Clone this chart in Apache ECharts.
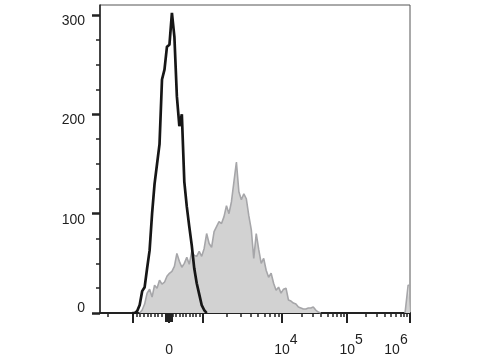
<!DOCTYPE html>
<html><head><meta charset="utf-8">
<script src="https://cdn.jsdelivr.net/npm/echarts@6/dist/echarts.min.js"></script>
<style>html,body{margin:0;padding:0;background:#fff}#c{width:480px;height:360px}</style>
</head><body><div id="c"></div>
<script>
// Display-channel scale (0..1000), biexponential transform of fluorescence intensity
const blackX = [104,112,120,128,136,144,152,160,168,176,184,192,200,208,216,224,232,240,248,256,264,272,280,288,296,304,312,320,328,336,344];
const blackCounts = [0,0,2,8,22,26,45,63,100,130,150,170,235,245,268,270,302,278,218,188,200,132,107,87,68,45,30,19,8,3,0];

const grayX = [128,136,144,152,160,168,176,184,192,200,208,216,224,232,240,248,256,264,272,280,288,296,304,312,320,328,336,344,352,360,368,376,384,392,400,408,416,424,432,440,448,456,464,472,480,488,496,504,512,520,528,536,544,552,560,568,576,584,592,600,608,616,624,632,640,648,656,664,672,680,688,696,704,712];
const grayCounts = [0,3,9,20,24,16,28,25,33,29,31,37,40,42,47,60,52,46,50,56,49,62,58,57,62,57,65,80,70,66,82,87,92,90,97,108,100,112,132,152,122,114,120,115,98,84,55,80,64,50,55,43,36,40,30,23,26,20,24,25,13,12,10,9,6,5,4,4,5,5,6,3,1,0];

const edgeX = [984,994,1000];
const edgeCounts = [0,28,28];

const yTickValues = [0,100,200,300];
const yMinorValues = [25,50,75,125,150,175,225,250,275];

// x-axis decade positions on display scale
const xLabelValues = [223,587,797,1000];
const xLabelTexts = ['0','10^4','10^5','10^6'];
const xMajorTicks = [106,223,332,587,797,1000];

// minor tick positions on display scale
const xMinorTicks = [26];
for (let k = 1; k <= 9; k++) { xMinorTicks.push(223 - k * 11.7); xMinorTicks.push(223 + k * 10.9); }
const decades = [[332,587],[587,797],[797,1000]];
decades.forEach(([a,b]) => { for (let k = 2; k <= 9; k++) xMinorTicks.push(a + (b - a) * Math.log10(k)); });

const FONT = 'Liberation Sans';
const TXT = '#1e1e1e';

function xLabelFormatter(v) {
  const i = xLabelValues.findIndex(t => Math.abs(t - v) < 0.5);
  if (i < 0) return '';
  const s = xLabelTexts[i];
  if (s === '0') return '{z|0}';
  const exp = s.split('^')[1];
  if (i === xLabelValues.length - 1) return '{b|10}{s|' + exp + '}{q| }';
  return '{p| }{b|10}{s|' + exp + '}';
}

const chart = echarts.init(document.getElementById('c'), null, {renderer: 'canvas'});
const baseAxis = {type: 'value', min: 0, max: 1000, position: 'bottom', splitLine: {show: false}};
const option = {
  animation: false,
  backgroundColor: '#ffffff',
  grid: {left: 100, right: 70, top: 5, bottom: 47, show: true, borderColor: '#555', borderWidth: 1, containLabel: false, outerBoundsMode: 'none'},
  xAxis: [
    Object.assign({}, baseAxis, {
      axisLine: {show: true, lineStyle: {color: '#222', width: 2}},
      axisTick: {show: true, customValues: xMajorTicks, length: 10, lineStyle: {color: '#222', width: 2}},
      axisLabel: {
        show: true, customValues: xLabelValues, margin: 20, formatter: xLabelFormatter,
        color: TXT, fontFamily: FONT, fontSize: 14,
        rich: {
          z: {fontFamily: FONT, fontSize: 14, color: TXT, padding: [10,0,10,0]},
          b: {fontFamily: FONT, fontSize: 14, color: TXT},
          s: {fontFamily: FONT, fontSize: 14, color: TXT, padding: [0,0,20,0]},
          p: {fontFamily: FONT, fontSize: 14, width: 8},
          q: {fontFamily: FONT, fontSize: 14, width: 28}
        }
      }
    }),
    Object.assign({}, baseAxis, {
      axisLine: {show: false},
      axisTick: {show: true, customValues: xMinorTicks, length: 4, lineStyle: {color: '#222', width: 1.5}},
      axisLabel: {show: false}
    }),
    Object.assign({}, baseAxis, {
      axisLine: {show: false},
      axisTick: {show: true, customValues: [223], length: 9, lineStyle: {color: '#222', width: 8}},
      axisLabel: {show: false}
    })
  ],
  yAxis: [
    {
      type: 'value', min: 0, max: 310, position: 'left', splitLine: {show: false},
      axisLine: {show: true, lineStyle: {color: '#222', width: 1.5}},
      axisTick: {show: true, customValues: yTickValues, length: 8, lineStyle: {color: '#222', width: 2.5}},
      axisLabel: {
        show: true, customValues: yTickValues, margin: 15, color: TXT, fontFamily: FONT, fontSize: 14,
        formatter: v => v === 0 ? '{z|0}' : '{n|' + v + '}',
        rich: {
          n: {fontFamily: FONT, fontSize: 14, color: TXT, padding: [12,0,0,0]},
          z: {fontFamily: FONT, fontSize: 14, color: TXT, padding: [0,0,10,0]}
        }
      }
    },
    {
      type: 'value', min: 0, max: 310, position: 'left', splitLine: {show: false},
      axisLine: {show: false},
      axisTick: {show: true, customValues: yMinorValues, length: 4, lineStyle: {color: '#222', width: 1.5}},
      axisLabel: {show: false}
    }
  ],
  series: [
    {
      type: 'line', xAxisIndex: 0, yAxisIndex: 0, symbol: 'none', z: 2,
      data: grayX.map((x, i) => [x, grayCounts[i]]),
      lineStyle: {color: '#a6a6a9', width: 1.6},
      areaStyle: {color: '#d2d2d2', opacity: 1}
    },
    {
      type: 'line', xAxisIndex: 0, yAxisIndex: 0, symbol: 'none', z: 2,
      data: edgeX.map((x, i) => [x, edgeCounts[i]]),
      lineStyle: {color: '#a6a6a9', width: 1.6},
      areaStyle: {color: '#d2d2d2', opacity: 1}
    },
    {
      type: 'line', xAxisIndex: 0, yAxisIndex: 0, symbol: 'none', z: 3,
      data: blackX.map((x, i) => [x, blackCounts[i]]),
      lineStyle: {color: '#161616', width: 2.7}
    }
  ]
};
chart.setOption(option);
</script>
</body></html>
